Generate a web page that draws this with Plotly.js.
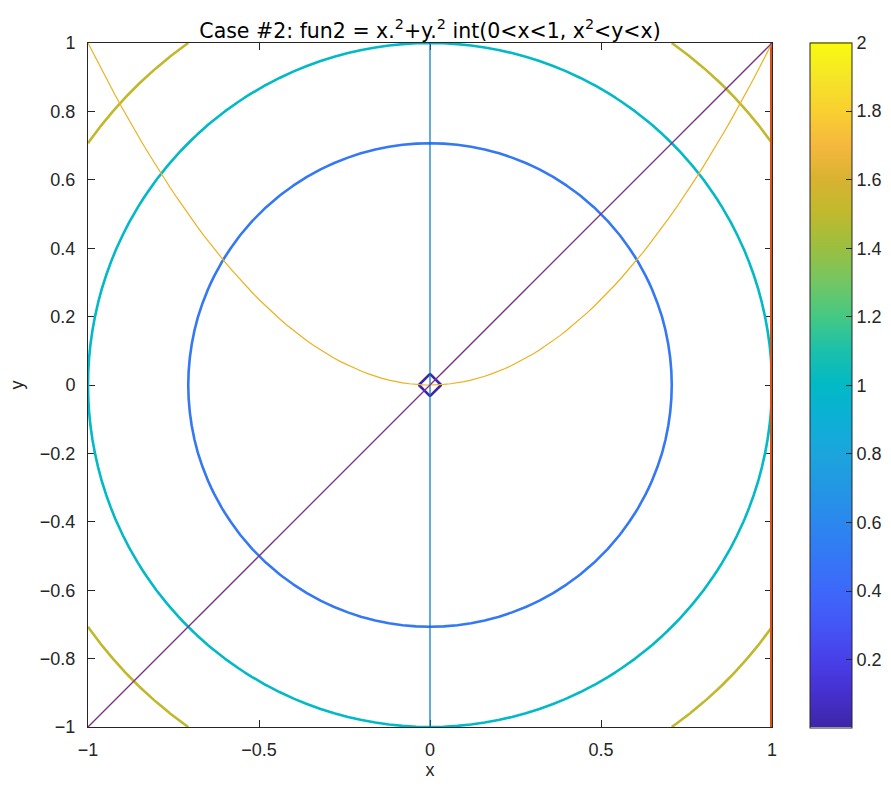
<!DOCTYPE html>
<html>
<head>
<meta charset="utf-8">
<script src="https://cdn.plot.ly/plotly-3.0.1.min.js"></script>
<style>
  html, body { margin: 0; padding: 0; background: #fff; }
  #chart { width: 891px; height: 788px; }
</style>
</head>
<body>
<div id="chart"></div>
<script>
// fun2 = x.^2 + y.^2 on [-1,1] x [-1,1], integration region 0<x<1, x^2<y<x

// contour levels drawn
const contourLevels = [0.0013, 0.5, 1.0, 1.5];
// colour limits
const cRange = [0.002, 2];
// grid spacing of the sampled function
const gridStep = 0.04;
const gridLimits = [-1, 1];

// axis ticks
const xTicks = [-1, -0.5, 0, 0.5, 1];
const yTicks = [-1, -0.8, -0.6, -0.4, -0.2, 0, 0.2, 0.4, 0.6, 0.8, 1];
const cTicks = [0.2, 0.4, 0.6, 0.8, 1, 1.2, 1.4, 1.6, 1.8, 2];

// region boundaries
const lineX0 = { x: [0, 0], y: [-1, 1] };      // x = 0
const lineX1 = { x: [1, 1], y: [-1, 1] };      // x = 1
const lineYX = { x: [-1, 1], y: [-1, 1] };     // y = x
const parabolaStep = 0.02;                      // sampling of y = x^2

// parula-like colour map
const parula = [
  [0.00, '#3e26a8'],
  [0.05, '#4530cf'],
  [0.10, '#4840ea'],
  [0.15, '#4456f6'],
  [0.20, '#3d68fa'],
  [0.25, '#3478f5'],
  [0.30, '#2b88ee'],
  [0.35, '#2397e3'],
  [0.40, '#1ba5dc'],
  [0.45, '#0cb0d5'],
  [0.50, '#02b9c6'],
  [0.55, '#1cc0aa'],
  [0.60, '#45c982'],
  [0.65, '#74c663'],
  [0.70, '#9bbf3f'],
  [0.75, '#c0b92e'],
  [0.80, '#d9b232'],
  [0.85, '#f6b83e'],
  [0.90, '#f9d030'],
  [0.95, '#f5e627'],
  [1.00, '#f9fb0e']
];

// colour of a level
function levelColor(v) {
  const t = Math.max(0, Math.min(1, (v - cRange[0]) / (cRange[1] - cRange[0])));
  for (let i = 1; i < parula.length; i++) {
    if (t <= parula[i][0]) {
      const a = parula[i - 1], b = parula[i];
      const f = (t - a[0]) / (b[0] - a[0]);
      const ca = [1, 3, 5].map(k => parseInt(a[1].substr(k, 2), 16));
      const cb = [1, 3, 5].map(k => parseInt(b[1].substr(k, 2), 16));
      const c = ca.map((x, k) => Math.round(x + (cb[k] - x) * f));
      return 'rgb(' + c.join(',') + ')';
    }
  }
  return parula[parula.length - 1][1];
}

// sample the function on the grid
const n = Math.round((gridLimits[1] - gridLimits[0]) / gridStep) + 1;
const gx = [];
for (let i = 0; i < n; i++) gx.push(+(gridLimits[0] + i * gridStep).toFixed(6));
const gz = gx.map(y => gx.map(x => x * x + y * y));

const px = [];
const steps = Math.round(2 / parabolaStep);
for (let i = 0; i <= steps; i++) px.push(+(-1 + i * parabolaStep).toFixed(6));
const py = px.map(x => x * x);

const tickFont = { family: '"Liberation Sans Narrow", "Liberation Sans", Arial, sans-serif', size: 18, color: '#262626' };
const axisColor = '#262626';

const contourTraces = contourLevels.map(level => ({
  type: 'contour', x: gx, y: gx, z: gz,
  showscale: false,
  autocontour: false,
  contours: { coloring: 'none', start: level, end: level, size: 1 },
  line: { width: 2.6, smoothing: 0, color: levelColor(level) },
  hoverinfo: 'skip'
}));

const traces = contourTraces.concat([
  { type: 'scatter', mode: 'lines', x: lineX0.x, y: lineX0.y, line: { color: '#0072bd', width: 1.2 } },
  { type: 'scatter', mode: 'lines', x: lineX1.x, y: lineX1.y, line: { color: '#d95319', width: 4 } },
  { type: 'scatter', mode: 'lines', x: px, y: py, line: { color: '#edb120', width: 1.2 } },
  { type: 'scatter', mode: 'lines', x: lineYX.x, y: lineYX.y, line: { color: '#7e2f8e', width: 1.3 } },
  // colour bar for the contour levels
  {
    type: 'scatter', mode: 'markers', x: [null, null], y: [null, null],
    hoverinfo: 'skip',
    marker: {
      size: 0, opacity: 0,
      color: cRange, cmin: cRange[0], cmax: cRange[1], colorscale: parula, showscale: true,
      colorbar: {
        x: 1.0556, xanchor: 'left', xref: 'paper',
        y: 0.5, yanchor: 'middle', len: 1.0015, lenmode: 'fraction',
        thickness: 42, thicknessmode: 'pixels',
        outlinewidth: 1, outlinecolor: axisColor,
        ticks: 'inside', ticklen: 6, tickwidth: 1, tickcolor: axisColor,
        tickvals: cTicks, tickfont: tickFont, ticklabelposition: 'outside',
        xpad: 0, ypad: 0
      }
    }
  }
]);

const layout = {
  width: 891, height: 788,
  margin: { l: 88, r: 119, t: 43, b: 61, pad: 0, autoexpand: false },
  paper_bgcolor: '#ffffff', plot_bgcolor: '#ffffff',
  showlegend: false,
  title: {
    text: 'Case #2: fun2 = x.<sup>2</sup>+y.<sup>2</sup> int(0&lt;x&lt;1, x<sup>2</sup>&lt;y&lt;x)',
    font: { family: '"DejaVu Sans", sans-serif', size: 20.5, color: '#000000' },
    x: 0.5, xref: 'paper', xanchor: 'center',
    y: 1, yref: 'paper', yanchor: 'bottom', pad: { b: 5 }
  },
  xaxis: {
    range: gridLimits, tickvals: xTicks, ticks: 'inside', ticklen: 7, tickwidth: 1,
    tickcolor: axisColor, showline: true, linecolor: axisColor, linewidth: 1, mirror: 'ticks',
    showgrid: false, zeroline: false, tickfont: tickFont, layer: 'below traces',
    ticklabelstandoff: 6,
    title: { text: 'x', font: tickFont, standoff: 2 }
  },
  yaxis: {
    range: gridLimits, tickvals: yTicks, ticks: 'inside', ticklen: 7, tickwidth: 1,
    tickcolor: axisColor, showline: true, linecolor: axisColor, linewidth: 1, mirror: 'ticks',
    showgrid: false, zeroline: false, tickfont: tickFont, layer: 'below traces',
    ticklabelstandoff: 8,
    title: { text: 'y', font: tickFont, standoff: 11 }
  }
};

Plotly.newPlot('chart', traces, layout, { displayModeBar: false, staticPlot: true });
</script>
</body>
</html>
